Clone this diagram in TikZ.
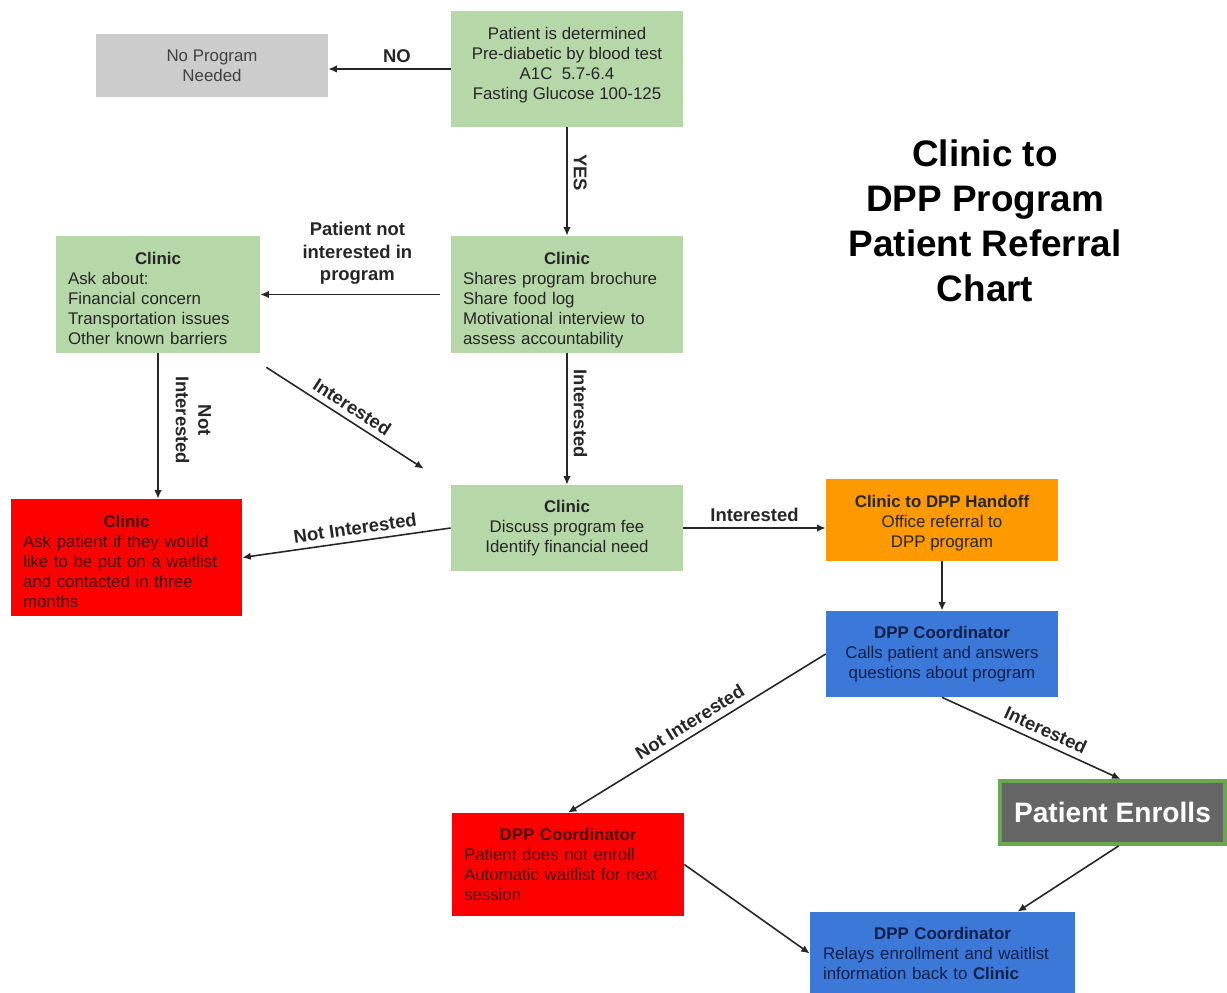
\documentclass[tikz,border=0pt]{standalone}
\usepackage{fontspec}
\setmainfont{Liberation Sans}
\usetikzlibrary{arrows.meta,calc}

\definecolor{clinicgreen}{HTML}{B6D7A8}
\definecolor{stopred}{HTML}{FF0000}
\definecolor{stoptext}{HTML}{4A0A0A}
\definecolor{handoffora}{HTML}{FF9900}
\definecolor{dppblue}{HTML}{3C78D8}
\definecolor{dpptext}{HTML}{0E1F4A}
\definecolor{nogray}{HTML}{CCCCCC}
\definecolor{enrollgray}{HTML}{666666}
\definecolor{enrollrim}{HTML}{6AA84F}

% strut to push box text down a little
\newcommand\padtop[1]{\rule{0pt}{#1}}

\begin{document}
\begin{tikzpicture}
  [
    x=0.02cm, y=-0.02cm,
    every node/.style={font=\fontsize{9.6}{11.4}\selectfont},
    box/.style={rectangle,inner xsep=0.24cm,inner ysep=0pt},
    greenbox/.style={box,fill=clinicgreen,text=black!85},
    graybox/.style={box,fill=nogray,text=black!75},
    redbox/.style={box,fill=stopred,text=stoptext},
    orangebox/.style={box,fill=handoffora,text=black!85},
    bluebox/.style={box,fill=dppblue,text=dpptext},
    enrollbox/.style={rectangle,fill=enrollgray,draw=enrollrim,line width=0.8mm,text=white,
      font=\fontsize{16}{19}\selectfont\bfseries},
    heading/.style={align=center,font=\fontsize{21}{25.6}\selectfont\bfseries},
    link/.style={draw=black!85,line width=0.9pt,-{Latex[length=1.7mm,width=1.5mm]}},
    tag/.style={font=\fontsize{10.5}{12.8}\selectfont\bfseries,text=black!85},
  ]
  \useasboundingbox (0,0) rectangle (1227,993);

  % boxes
  \node at (212,65.5) [graybox,minimum width=4.64cm,minimum height=1.26cm,align=center] (nope)
    {No Program\\Needed};
  \node at (567,69) [greenbox,minimum width=4.64cm,minimum height=2.32cm,align=center] (start)
    {Patient is determined\\Pre-diabetic by blood test\\A1C\ \ 5.7-6.4\\Fasting Glucose 100-125\rule[-0.24cm]{0pt}{0pt}};
  \node at (567,294.5) [greenbox,minimum width=4.64cm,minimum height=2.34cm,text width=4.16cm,align=left] (offer)
    {\makebox[\linewidth]{\padtop{0.48cm}\textbf{Clinic}}\\Shares program brochure\\Share food log\\Motivational interview to\\assess accountability};
  \node at (158,294.5) [greenbox,minimum width=4.08cm,minimum height=2.34cm,text width=3.6cm,align=left] (barriers)
    {\makebox[\linewidth]{\padtop{0.4cm}\textbf{Clinic}}\\Ask about:\\Financial concern\\Transportation issues\\Other known barriers};
  \node at (126.5,557.5) [redbox,minimum width=4.62cm,minimum height=2.34cm,text width=4.14cm,align=left] (waitlist)
    {\makebox[\linewidth]{\padtop{0.4cm}\textbf{Clinic}}\\Ask patient if they would\\like to be put on a waitlist\\and contacted in three\\months};
  \node at (567,528) [greenbox,minimum width=4.64cm,minimum height=1.72cm,align=center] (fee)
    {\textbf{Clinic}\\Discuss program fee\\Identify financial need};
  \node at (942,520) [orangebox,minimum width=4.64cm,minimum height=1.64cm,align=center] (handoff)
    {\padtop{0.37cm}\textbf{Clinic to DPP Handoff}\\Office referral to\\DPP program};
  \node at (942,654) [bluebox,minimum width=4.64cm,minimum height=1.72cm,align=center] (calls)
    {\textbf{DPP Coordinator}\\Calls patient and answers\\questions about program};
  \node at (1112.5,812.5) [enrollbox,minimum width=4.5cm,minimum height=1.26cm] (enrolls)
    {Patient Enrolls};
  \node at (568,864.5) [redbox,minimum width=4.64cm,minimum height=2.06cm,text width=4.16cm,align=left] (noenroll)
    {\makebox[\linewidth]{\textbf{DPP Coordinator}}\\Patient does not enroll\\Automatic waitlist for next\\session};
  \node at (942.5,953.5) [bluebox,minimum width=5.3cm,minimum height=1.66cm,text width=4.78cm,align=left] (relay)
    {\makebox[\linewidth]{\textbf{DPP Coordinator}}\\Relays enrollment and waitlist\\information back to \textbf{Clinic}};

  \node at (985,221) [heading] (title) {Clinic to\\DPP Program\\Patient Referral\\Chart};

  % connectors
  \draw [link] (start.west) -- node[tag,above,pos=0.44] (no) {NO} (nope.east |- start.west);
  \draw [link] (start.south) -- node[tag,sloped,above,pos=0.42] (yes) {YES} (offer.north);
  \draw [link,shorten <=0.22cm] (offer.west) -- node[tag,above=0.06cm,align=center,pos=0.49] (notint)
    {Patient not\\interested in\\program} (barriers.east);
  \draw [link] (barriers.south) -- node[tag,sloped,above=0.22cm,align=center,pos=0.46] (notint2)
    {Not\\Interested} (barriers.south |- waitlist.north);
  \draw [link] ($(barriers.south east)+(6,14)$) -- node[tag,sloped,above,pos=0.5] (int1)
    {Interested} ($(fee.north west)+(-27,-16)$);
  \draw [link] (offer.south) -- node[tag,sloped,above,pos=0.46] (int2) {Interested} (fee.north);
  \draw [link] (fee.west) -- node[tag,sloped,above,pos=0.45] (notint3) {Not Interested} (waitlist.east);
  \draw [link] (fee.east) -- node[tag,above] (int3) {Interested} (fee.east -| handoff.west);
  \draw [link] (handoff.south) -- (calls.north);
  \draw [link] (calls.west) -- node[tag,sloped,above,pos=0.5] (notint4) {Not Interested} (noenroll.north);
  \draw [link] (calls.south) -- node[tag,sloped,above,pos=0.55] (int4) {Interested} ($(enrolls.north)+(8,0)$);
  \draw [link] ($(enrolls.south)+(6,0)$) -- ($(relay.north)+(75,0)$);
  \draw [link] (noenroll.east) -- (relay.west);
\end{tikzpicture}
\end{document}
